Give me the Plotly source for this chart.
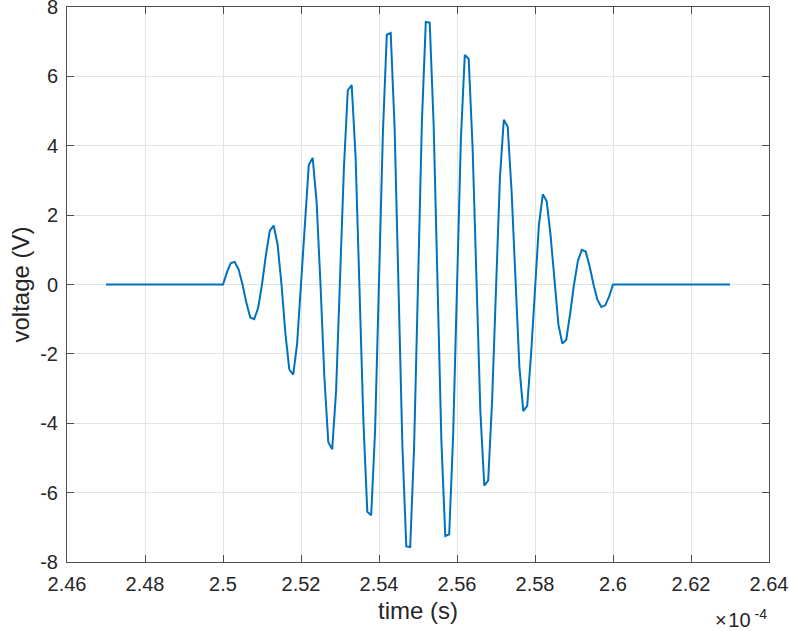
import plotly.graph_objects as go

# time axis in units of 1e-4 s (tick labels carry the x10^-4 exponent)
time_e4 = [
    2.470, 2.471, 2.472, 2.473, 2.474, 2.475, 2.476, 2.477, 2.478, 2.479,
    2.480, 2.481, 2.482, 2.483, 2.484, 2.485, 2.486, 2.487, 2.488, 2.489,
    2.490, 2.491, 2.492, 2.493, 2.494, 2.495, 2.496, 2.497, 2.498, 2.499,
    2.500, 2.501, 2.502, 2.503, 2.504, 2.505, 2.506, 2.507, 2.508, 2.509,
    2.510, 2.511, 2.512, 2.513, 2.514, 2.515, 2.516, 2.517, 2.518, 2.519,
    2.520, 2.521, 2.522, 2.523, 2.524, 2.525, 2.526, 2.527, 2.528, 2.529,
    2.530, 2.531, 2.532, 2.533, 2.534, 2.535, 2.536, 2.537, 2.538, 2.539,
    2.540, 2.541, 2.542, 2.543, 2.544, 2.545, 2.546, 2.547, 2.548, 2.549,
    2.550, 2.551, 2.552, 2.553, 2.554, 2.555, 2.556, 2.557, 2.558, 2.559,
    2.560, 2.561, 2.562, 2.563, 2.564, 2.565, 2.566, 2.567, 2.568, 2.569,
    2.570, 2.571, 2.572, 2.573, 2.574, 2.575, 2.576, 2.577, 2.578, 2.579,
    2.580, 2.581, 2.582, 2.583, 2.584, 2.585, 2.586, 2.587, 2.588, 2.589,
    2.590, 2.591, 2.592, 2.593, 2.594, 2.595, 2.596, 2.597, 2.598, 2.599,
    2.600, 2.601, 2.602, 2.603, 2.604, 2.605, 2.606, 2.607, 2.608, 2.609,
    2.610, 2.611, 2.612, 2.613, 2.614, 2.615, 2.616, 2.617, 2.618, 2.619,
    2.620, 2.621, 2.622, 2.623, 2.624, 2.625, 2.626, 2.627, 2.628, 2.629,
    2.630,
]

voltage = [
    0, 0, 0, 0, 0, 0, 0, 0, 0, 0,
    0, 0, 0, 0, 0, 0, 0, 0, 0, 0,
    0, 0, 0, 0, 0, 0, 0, 0, 0, 0,
    0.00, 0.35, 0.62, 0.65, 0.44, 0.00, -0.53, -0.95, -1.00, -0.68,
    0.00, 0.85, 1.55, 1.70, 1.15, 0.00, -1.41, -2.45, -2.60, -1.71,
    0.00, 2.00, 3.45, 3.65, 2.38, 0.00, -2.68, -4.55, -4.75, -3.06,
    0.00, 3.35, 5.60, 5.75, 3.68, 0.00, -3.94, -6.55, -6.65, -4.20,
    0.00, 4.38, 7.20, 7.25, 4.53, 0.00, -4.65, -7.55, -7.57, -4.69,
    0.00, 4.69, 7.57, 7.55, 4.65, 0.00, -4.53, -7.25, -7.20, -4.38,
    0.00, 4.20, 6.62, 6.50, 3.94, 0.00, -3.68, -5.80, -5.65, -3.35,
    0.00, 3.06, 4.75, 4.55, 2.68, 0.00, -2.38, -3.65, -3.50, -2.00,
    0.00, 1.71, 2.60, 2.40, 1.41, 0.00, -1.15, -1.70, -1.60, -0.85,
    0.00, 0.68, 1.00, 0.95, 0.53, 0.00, -0.44, -0.65, -0.60, -0.35,
    0.00, 0, 0, 0, 0, 0, 0, 0, 0, 0,
    0, 0, 0, 0, 0, 0, 0, 0, 0, 0,
    0, 0, 0, 0, 0, 0, 0, 0, 0, 0,
    0,
]

x_tickvals = [2.46, 2.48, 2.50, 2.52, 2.54, 2.56, 2.58, 2.60, 2.62, 2.64]
x_ticktext = ["2.46", "2.48", "2.5", "2.52", "2.54", "2.56", "2.58", "2.6", "2.62", "2.64"]
y_tickvals = [-8, -6, -4, -2, 0, 2, 4, 6, 8]
y_ticktext = ["-8", "-6", "-4", "-2", "0", "2", "4", "6", "8"]

FONT = "Liberation Sans, Arial, Helvetica, sans-serif"
AXC = "#4d4d4d"
TXT = "#262626"

fig = go.Figure()
fig.add_trace(go.Scatter(
    x=time_e4, y=voltage, mode="lines",
    line=dict(color="#0072BD", width=2),
    showlegend=False,
))

common = dict(
    automargin=False, ticklabeloverflow="allow", ticklabelstandoff=4,
    showgrid=True, gridcolor="#e3e3e3", gridwidth=1,
    zeroline=False, showline=True, linecolor=AXC, linewidth=1,
    mirror="allticks", ticks="inside", ticklen=7, tickcolor=AXC, tickwidth=1,
    tickfont=dict(family=FONT, size=20, color=TXT),
)

fig.update_xaxes(
    range=[2.46, 2.64], tickmode="array", tickvals=x_tickvals, ticktext=x_ticktext,
    title=dict(text="time (s)", font=dict(family=FONT, size=24, color=TXT), standoff=8),
    **common,
)
fig.update_yaxes(
    range=[-8, 8], tickmode="array", tickvals=y_tickvals, ticktext=y_ticktext,
    title=dict(text="voltage (V)", font=dict(family=FONT, size=24, color=TXT), standoff=3),
    **common,
)

fig.add_annotation(
    xref="paper", yref="paper", x=1.0, y=-0.102, xanchor="right", yanchor="middle",
    text="\u00d7\u200a10<sup> -4</sup>", showarrow=False,
    font=dict(family=FONT, size=20, color=TXT),
)

fig.update_layout(
    width=789, height=631,
    margin=dict(l=67, r=20, t=7, b=69),
    paper_bgcolor="white", plot_bgcolor="white",
)

fig.write_html(
    "out.html",
    config={"displayModeBar": False},
    post_script="document.body.style.margin='0px';document.body.style.overflow='hidden';",
)
